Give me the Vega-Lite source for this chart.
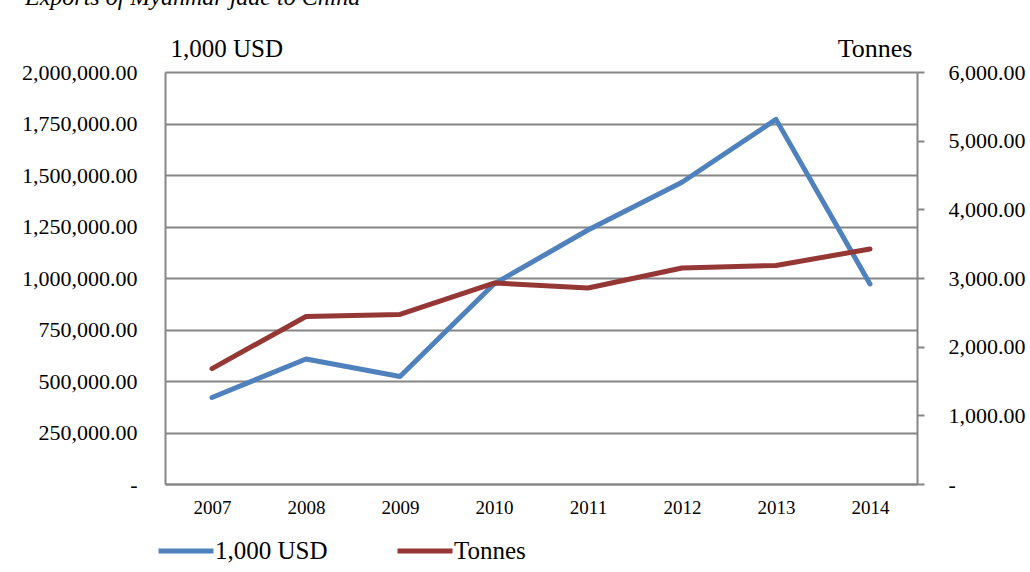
{
  "$schema": "https://vega.github.io/schema/vega-lite/v6.json",
  "autosize": "none",
  "width": 752,
  "height": 412,
  "padding": {"left": 165, "top": 72, "right": 113, "bottom": 88},
  "background": "white",
  "title": {
    "text": "Exports of Myanmar jade to China",
    "fontStyle": "italic",
    "font": "Liberation Serif",
    "fontSize": 24,
    "fontWeight": "normal",
    "color": "#000000",
    "anchor": "start",
    "frame": "group",
    "dx": -140,
    "dy": -21
  },
  "config": {
    "font": "Liberation Serif",
    "view": {"stroke": null},
    "axis": {"labelColor": "#000000", "titleColor": "#000000", "labelFont": "Liberation Serif", "titleFont": "Liberation Serif", "titleFontWeight": "normal"},
    "legend": {"labelFont": "Liberation Serif", "labelColor": "#000000"}
  },
  "data": {
    "values": [
      {"year": "2007", "usd": 420000, "tonnes": 1680},
      {"year": "2008", "usd": 607000, "tonnes": 2440},
      {"year": "2009", "usd": 522000, "tonnes": 2470},
      {"year": "2010", "usd": 971000, "tonnes": 2927},
      {"year": "2011", "usd": 1233000, "tonnes": 2854},
      {"year": "2012", "usd": 1465000, "tonnes": 3146},
      {"year": "2013", "usd": 1770000, "tonnes": 3182},
      {"year": "2014", "usd": 971000, "tonnes": 3422}
    ]
  },
  "encoding": {
    "x": {
      "field": "year",
      "type": "ordinal",
      "scale": {"type": "point", "padding": 0.5},
      "axis": {
        "title": null,
        "labelAngle": 0,
        "labelFontSize": 19,
        "labelPadding": 14,
        "ticks": false,
        "tickSize": 0,
        "domainColor": "#868686",
        "domainWidth": 2,
        "grid": false
      }
    }
  },
  "layer": [
    {
      "mark": {"type": "line", "strokeWidth": 5, "strokeCap": "round", "strokeJoin": "round"},
      "encoding": {
        "y": {
          "field": "usd",
          "type": "quantitative",
          "scale": {"domain": [0, 2000000], "nice": false},
          "axis": {
            "orient": "left",
            "values": [0, 250000, 500000, 750000, 1000000, 1250000, 1500000, 1750000, 2000000],
            "labelExpr": "datum.value == 0 ? '-\u00a0\u00a0\u00a0\u00a0' : format(datum.value, ',.2f')",
            "labelFontSize": 22,
            "labelPadding": 28,
            "ticks": false,
            "tickSize": 0,
            "domainColor": "#868686",
            "domainWidth": 2,
            "grid": true,
            "gridColor": "#868686",
            "gridWidth": 2,
            "gridOpacity": 1,
            "title": "1,000 USD",
            "titleAngle": 0,
            "titleFontSize": 25,
            "titleAlign": "left",
            "titleBaseline": "alphabetic",
            "titleX": 5,
            "titleY": -16
          }
        },
        "color": {
          "datum": "1,000 USD",
          "type": "nominal",
          "scale": {"domain": ["1,000 USD", "Tonnes"], "range": ["#4f81bd", "#953735"]},
          "legend": {
            "title": null,
            "orient": "none",
            "direction": "horizontal",
            "legendX": -9,
            "legendY": 449,
            "symbolType": "stroke",
            "symbolSize": 3025,
            "symbolStrokeWidth": 5,
            "labelFontSize": 25,
            "labelOffset": -1,
            "columnPadding": 59
          }
        }
      }
    },
    {
      "mark": {"type": "line", "strokeWidth": 5, "strokeCap": "round", "strokeJoin": "round"},
      "encoding": {
        "y": {
          "field": "tonnes",
          "type": "quantitative",
          "scale": {"domain": [0, 6000], "nice": false},
          "axis": {
            "orient": "right",
            "values": [0, 1000, 2000, 3000, 4000, 5000, 6000],
            "labelExpr": "datum.value == 0 ? '-' : format(datum.value, ',.2f')",
            "labelFontSize": 22,
            "labelPadding": 24,
            "ticks": true,
            "tickSize": 7,
            "tickColor": "#868686",
            "tickWidth": 2,
            "domainColor": "#868686",
            "domainWidth": 2,
            "grid": false,
            "title": "Tonnes",
            "titleAngle": 0,
            "titleFontSize": 26,
            "titleAlign": "right",
            "titleBaseline": "alphabetic",
            "titleX": -5,
            "titleY": -16
          }
        },
        "color": {"datum": "Tonnes", "type": "nominal"}
      }
    }
  ],
  "resolve": {"scale": {"y": "independent"}}
}
